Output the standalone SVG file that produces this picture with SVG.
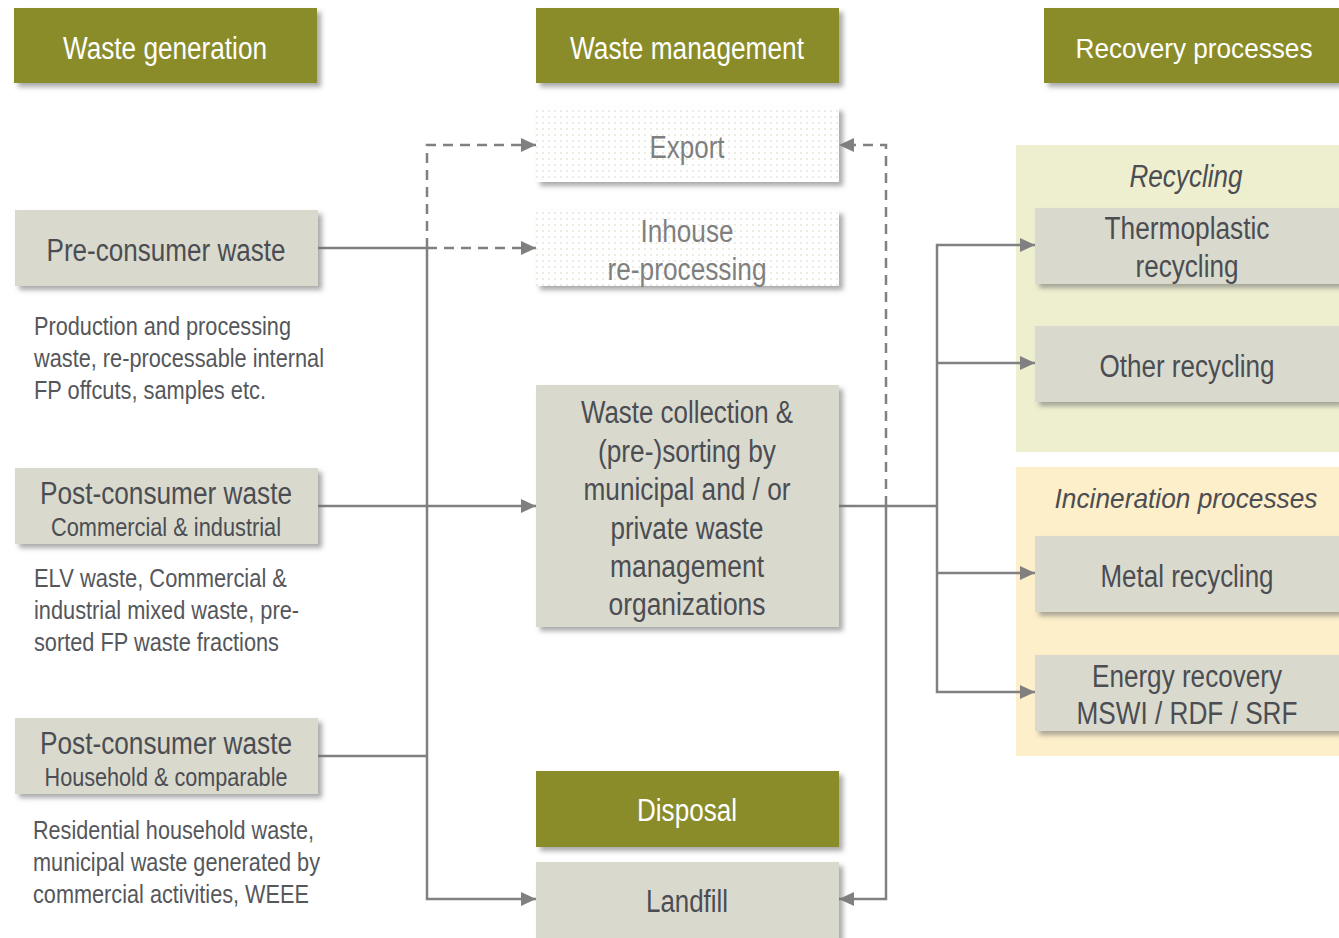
<svg xmlns="http://www.w3.org/2000/svg" width="1339" height="938" viewBox="0 0 1339 938">
<defs>
<filter id="sh" x="-5%" y="-10%" width="115%" height="130%">
<feDropShadow dx="4" dy="4" stdDeviation="2.5" flood-color="#6f6f6f" flood-opacity="0.6"/>
</filter>
<pattern id="dots" width="6" height="6" patternUnits="userSpaceOnUse">
<rect width="6" height="6" fill="#ffffff"/>
<circle cx="3" cy="3" r="0.8" fill="#d6d4bf"/>
</pattern>
<marker id="arr" markerWidth="15" markerHeight="14" refX="15" refY="7" orient="auto" markerUnits="userSpaceOnUse">
<path d="M0,0 L15,7 L0,14 Z" fill="#808080"/>
</marker>
</defs>
<style>
text{font-family:"Liberation Sans Narrow","Liberation Sans",Arial,sans-serif;text-anchor:middle}
.hdr{fill:#8a8c2c}
.box{fill:#d9dacd}
.dot{fill:url(#dots)}
.ht{fill:#ffffff;font-size:31px}
.bt{fill:#4b4d53;font-size:31px}
.st{fill:#4b4d53;font-size:25px}
.dt{fill:#55575b;font-size:26px;text-anchor:start}
.gt{fill:#7f7f7f;font-size:31px}
.it{fill:#4b4d53;font-size:31px;font-style:italic}
.sm{font-size:28px}
.ln{fill:none;stroke:#808080;stroke-width:2.5}
.ds{stroke-dasharray:10,7}
</style>
<rect width="1339" height="938" fill="#ffffff"/>

<g id="panel-recycling"><rect x="1016" y="145" width="323" height="307" fill="#eeefcf"/><text class="it" x="1186" y="187" textLength="113" lengthAdjust="spacingAndGlyphs">Recycling</text></g>
<g id="panel-incineration"><rect x="1016" y="467" width="323" height="289" fill="#fdefc9"/><text class="it sm" x="1186" y="508" textLength="263" lengthAdjust="spacingAndGlyphs">Incineration processes</text></g>

<g id="connectors">
<path class="ln" d="M318,248 H427 V899 H536" marker-end="url(#arr)"/>
<path class="ln" d="M318,756 H427"/>
<path class="ln ds" d="M427,248 H536" marker-end="url(#arr)"/>
<path class="ln ds" d="M427,248 V145 H536" marker-end="url(#arr)"/>
<path class="ln" d="M318,506 H536" marker-end="url(#arr)"/>
<path class="ln" d="M839,506 H937"/>
<path class="ln" d="M937,506 V245 H1035" marker-end="url(#arr)"/>
<path class="ln" d="M937,363 H1035" marker-end="url(#arr)"/>
<path class="ln" d="M937,506 V692 H1035" marker-end="url(#arr)"/>
<path class="ln" d="M937,573 H1035" marker-end="url(#arr)"/>
<path class="ln ds" d="M886,506 V145 H839" marker-end="url(#arr)"/>
<path class="ln" d="M886,506 V899 H839" marker-end="url(#arr)"/>
</g>

<g id="hdr-generation"><rect class="hdr" x="14" y="8" width="303" height="75" filter="url(#sh)"/><text class="ht" x="165" y="59" textLength="204" lengthAdjust="spacingAndGlyphs">Waste generation</text></g>
<g id="hdr-management"><rect class="hdr" x="536" y="8" width="303" height="75" filter="url(#sh)"/><text class="ht" x="687" y="59" textLength="234" lengthAdjust="spacingAndGlyphs">Waste management</text></g>
<g id="hdr-recovery"><rect class="hdr" x="1044" y="8" width="295" height="75" filter="url(#sh)"/><text class="ht sm" x="1194" y="58" textLength="237" lengthAdjust="spacingAndGlyphs">Recovery processes</text></g>

<g id="pre-consumer"><rect class="box" x="15" y="210" width="303" height="76" filter="url(#sh)"/><text class="bt" x="166" y="261" textLength="239" lengthAdjust="spacingAndGlyphs">Pre-consumer waste</text></g>
<g id="pre-consumer-desc">
<text class="dt" x="34" y="335" textLength="257" lengthAdjust="spacingAndGlyphs">Production and processing</text>
<text class="dt" x="34" y="367" textLength="290" lengthAdjust="spacingAndGlyphs">waste, re-processable internal</text>
<text class="dt" x="34" y="399" textLength="232" lengthAdjust="spacingAndGlyphs">FP offcuts, samples etc.</text>
</g>

<g id="post-ci"><rect class="box" x="15" y="468" width="303" height="76" filter="url(#sh)"/><text class="bt" x="166" y="504" textLength="252" lengthAdjust="spacingAndGlyphs">Post-consumer waste</text><text class="st" x="166" y="536" textLength="230" lengthAdjust="spacingAndGlyphs">Commercial &amp; industrial</text></g>
<g id="post-ci-desc">
<text class="dt" x="34" y="587" textLength="253" lengthAdjust="spacingAndGlyphs">ELV waste, Commercial &amp;</text>
<text class="dt" x="34" y="619" textLength="265" lengthAdjust="spacingAndGlyphs">industrial mixed waste, pre-</text>
<text class="dt" x="34" y="651" textLength="245" lengthAdjust="spacingAndGlyphs">sorted FP waste fractions</text>
</g>

<g id="post-household"><rect class="box" x="15" y="718" width="303" height="76" filter="url(#sh)"/><text class="bt" x="166" y="754" textLength="252" lengthAdjust="spacingAndGlyphs">Post-consumer waste</text><text class="st" x="166" y="786" textLength="243" lengthAdjust="spacingAndGlyphs">Household &amp; comparable</text></g>
<g id="post-household-desc">
<text class="dt" x="33" y="839" textLength="281" lengthAdjust="spacingAndGlyphs">Residential household waste,</text>
<text class="dt" x="33" y="871" textLength="287" lengthAdjust="spacingAndGlyphs">municipal waste generated by</text>
<text class="dt" x="33" y="903" textLength="276" lengthAdjust="spacingAndGlyphs">commercial activities, WEEE</text>
</g>

<g id="export"><rect class="dot" x="536" y="107" width="303" height="75" filter="url(#sh)"/><text class="gt" x="687" y="158" textLength="75" lengthAdjust="spacingAndGlyphs">Export</text></g>
<g id="inhouse"><rect class="dot" x="536" y="210" width="303" height="76" filter="url(#sh)"/><text class="gt" x="687" y="242" textLength="93" lengthAdjust="spacingAndGlyphs">Inhouse</text><text class="gt" x="687" y="280" textLength="159" lengthAdjust="spacingAndGlyphs">re-processing</text></g>

<g id="collection"><rect class="box" x="536" y="385" width="303" height="242" filter="url(#sh)"/>
<text class="bt" x="687" y="423" textLength="212" lengthAdjust="spacingAndGlyphs">Waste collection &amp;</text>
<text class="bt" x="687" y="462" textLength="178" lengthAdjust="spacingAndGlyphs">(pre-)sorting by</text>
<text class="bt" x="687" y="500" textLength="207" lengthAdjust="spacingAndGlyphs">municipal and / or</text>
<text class="bt" x="687" y="539" textLength="153" lengthAdjust="spacingAndGlyphs">private waste</text>
<text class="bt" x="687" y="577" textLength="154" lengthAdjust="spacingAndGlyphs">management</text>
<text class="bt" x="687" y="615" textLength="157" lengthAdjust="spacingAndGlyphs">organizations</text>
</g>

<g id="disposal"><rect class="hdr" x="536" y="771" width="303" height="76" filter="url(#sh)"/><text class="ht" x="687" y="821" textLength="100" lengthAdjust="spacingAndGlyphs">Disposal</text></g>
<g id="landfill"><rect class="box" x="536" y="862" width="303" height="80" filter="url(#sh)"/><text class="bt" x="687" y="912" textLength="82" lengthAdjust="spacingAndGlyphs">Landfill</text></g>

<g id="thermoplastic"><rect class="box" x="1035" y="208" width="304" height="76" filter="url(#sh)"/><text class="bt" x="1187" y="239" textLength="165" lengthAdjust="spacingAndGlyphs">Thermoplastic</text><text class="bt" x="1187" y="277" textLength="103" lengthAdjust="spacingAndGlyphs">recycling</text></g>
<g id="other-recycling"><rect class="box" x="1035" y="326" width="304" height="76" filter="url(#sh)"/><text class="bt" x="1187" y="377" textLength="175" lengthAdjust="spacingAndGlyphs">Other recycling</text></g>
<g id="metal-recycling"><rect class="box" x="1035" y="536" width="304" height="76" filter="url(#sh)"/><text class="bt" x="1187" y="587" textLength="173" lengthAdjust="spacingAndGlyphs">Metal recycling</text></g>
<g id="energy-recovery"><rect class="box" x="1035" y="655" width="304" height="76" filter="url(#sh)"/><text class="bt" x="1187" y="687" textLength="190" lengthAdjust="spacingAndGlyphs">Energy recovery</text><text class="bt" x="1187" y="724" textLength="221" lengthAdjust="spacingAndGlyphs">MSWI / RDF / SRF</text></g>
</svg>
